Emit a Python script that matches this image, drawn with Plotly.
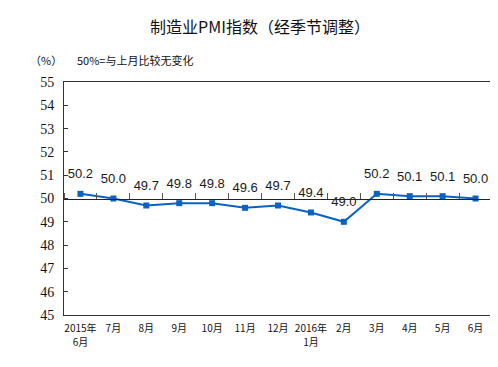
import plotly.graph_objects as go

categories = ["2015年6月", "7月", "8月", "9月", "10月", "11月", "12月",
              "2016年1月", "2月", "3月", "4月", "5月", "6月"]
tick_line1 = ["2015年", "7月", "8月", "9月", "10月", "11月", "12月",
              "2016年", "2月", "3月", "4月", "5月", "6月"]
tick_line2 = ["6月", "", "", "", "", "", "", "1月", "", "", "", "", ""]
pmi = [50.2, 50.0, 49.7, 49.8, 49.8, 49.6, 49.7, 49.4, 49.0, 50.2, 50.1, 50.1, 50.0]
y_ticks = [45, 46, 47, 48, 49, 50, 51, 52, 53, 54, 55]
baseline = 50

# page body has an 8px margin; compensate so the figure lands where the reference is
OFF = 8
W, H = 498 - OFF, 367 - OFF
ML, MR, MT, MB = 64 - OFF, 6, 82 - OFF, 52
xrange = [-0.5, len(categories) - 0.5]
tickfont = dict(family="Noto Sans CJK SC", size=10, color="#111")

fig = go.Figure()
fig.add_trace(go.Scatter(
    x=categories, y=pmi, mode="lines+markers",
    line=dict(color="#0a62c4", width=2),
    marker=dict(symbol="square", size=6, color="#0a62c4"),
    cliponaxis=False, showlegend=False,
))
# data labels (invisible larger markers push the text up a bit)
fig.add_trace(go.Scatter(
    x=categories, y=pmi, mode="markers+text",
    text=[f"{v:.1f}" for v in pmi], textposition="top center",
    textfont=dict(family="Liberation Sans, Arial", size=13, color="#1a1a1a"),
    marker=dict(size=18, color="rgba(0,0,0,0)"),
    cliponaxis=False, showlegend=False, hoverinfo="skip",
))
# invisible trace for the 50% reference axis
fig.add_trace(go.Scatter(
    x=categories, y=[baseline] * len(categories), xaxis="x2", mode="lines",
    line=dict(color="rgba(0,0,0,0)"), showlegend=False, hoverinfo="skip",
))
# invisible trace for the second line of the category labels
fig.add_trace(go.Scatter(
    x=categories, y=[baseline] * len(categories), xaxis="x3", mode="lines",
    line=dict(color="rgba(0,0,0,0)"), showlegend=False, hoverinfo="skip",
))

pw, ph = W - ML - MR, H - MT - MB

def px(x):
    return (x - OFF - ML) / pw

def py(y):
    return (H - MB - (y - OFF)) / ph

fig.update_layout(
    width=W, height=H,
    margin=dict(l=ML, r=MR, t=MT, b=MB, autoexpand=False),
    paper_bgcolor="white", plot_bgcolor="white",
    title=dict(text="制造业PMI指数（经季节调整）", x=(260 - OFF) / W, xanchor="center",
               y=1 - (27 - OFF) / H, yanchor="middle",
               font=dict(family="Noto Sans CJK SC", size=16, color="#111")),
    xaxis=dict(type="category", range=xrange, showline=True, linecolor="#333",
               linewidth=1, mirror=True, ticks="", showgrid=False,
               tickvals=categories, ticktext=tick_line1,
               automargin=False, ticklabelstandoff=4, tickfont=tickfont),
    xaxis2=dict(type="category", overlaying="x", matches="x", anchor="free",
                position=0.5, side="top", showline=True, linecolor="#222",
                linewidth=1, ticks="outside", ticklen=6, tickcolor="#555",
                tickson="boundaries", showticklabels=False, showgrid=False,
                automargin=False),
    xaxis3=dict(type="category", overlaying="x", matches="x", anchor="free",
                position=0, side="bottom", showline=False, ticks="",
                showgrid=False, zeroline=False, automargin=False,
                tickvals=categories, ticktext=tick_line2,
                ticklabelstandoff=20, tickfont=tickfont),
    yaxis=dict(range=[45, 55], tickvals=y_ticks, showline=True, linecolor="#333",
               linewidth=1, mirror=True, ticks="inside", ticklen=4,
               tickcolor="#333", showgrid=False, zeroline=False, automargin=False,
               ticklabelstandoff=6,
               tickfont=dict(family="Liberation Serif, Times New Roman", size=14,
                             color="#111")),
    annotations=[
        dict(text="（%）", x=px(46), y=py(60), xref="paper", yref="paper",
             xanchor="center", yanchor="middle", showarrow=False,
             font=dict(family="Noto Sans CJK SC", size=11, color="#111")),
        dict(text="50%=与上月比较无变化", x=px(75), y=py(60), xref="paper",
             yref="paper", xanchor="left", yanchor="middle", showarrow=False,
             font=dict(family="Noto Sans CJK SC", size=11, color="#111")),
    ],
)
fig.write_html("out.html")
